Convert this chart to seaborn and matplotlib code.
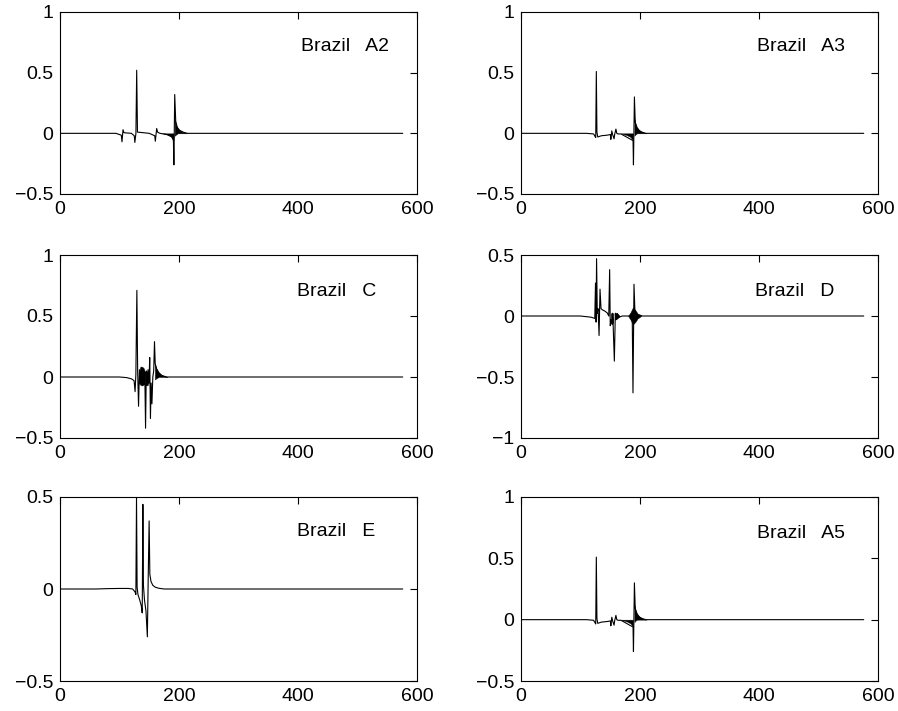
import matplotlib
matplotlib.use("Agg")
import matplotlib.pyplot as plt
import seaborn as sns

# ---------------- data ----------------
titles = ["Brazil   A2", "Brazil   A3", "Brazil   C", "Brazil   D", "Brazil   E", "Brazil   A5"]

a2_x = [0, 94, 103, 104.2, 105.9, 107.5, 120, 124.8, 125.8, 127.6, 128.9, 130.2, 150, 159.2, 160.2,
        162.5, 164, 168, 180, 188, 190.6, 191.4, 192.8, 194.5, 197, 201, 207, 214, 576]
a2_y = [0, 0, -0.015, -0.07, 0.03, 0.005, 0, -0.02, -0.075, 0.0, 0.52, 0.01, 0, -0.02, -0.065,
        0.04, 0.01, 0, -0.01, -0.03, -0.06, -0.26, 0.32, 0.1, 0.05, 0.025, 0.01, 0, 0]
a2_fx = [[172, 180, 185, 188.5, 190.8], [192.8, 195, 198, 202, 208, 214]]
a2_lo = [[0, -0.01, -0.02, -0.035, -0.06], [-0.02, -0.01, 0, 0, 0, 0]]
a2_hi = [[0, 0, 0, 0, 0], [0.12, 0.07, 0.04, 0.02, 0.008, 0]]

a3_x = [0, 110, 122, 125.6, 126.6, 127.6, 129, 135, 145, 150.2, 151, 152.6, 154, 156.4, 157.4,
        159.5, 161, 163, 168, 188.3, 189, 190.6, 192, 194, 198, 203, 210, 576]
a3_y = [0, 0, -0.005, -0.035, 0.51, 0.01, -0.03, -0.02, -0.015, -0.01, -0.05, 0.02, -0.01, -0.045, -0.01,
        0.035, 0.0, -0.005, -0.005, -0.06, -0.26, 0.3, 0.09, 0.05, 0.025, 0.01, 0, 0]
a3_fx = [[168, 178, 184, 188.3], [190.6, 192, 195, 199, 204, 211]]
a3_lo = [[0, -0.015, -0.03, -0.06], [-0.02, -0.01, 0, 0, 0, 0]]
a3_hi = [[0, 0, 0, 0], [0.12, 0.09, 0.05, 0.025, 0.01, 0]]

c_x = [0, 100, 112, 120, 124.5, 126.2, 127.5, 129.2, 130.5, 132, 133.5, 135, 136.5, 138, 139.5, 141,
       142.5, 143.8, 145, 146.5, 148, 149.5, 150.8, 152, 153.2, 154.5, 156, 157.5, 158.8, 160, 162,
       166, 172, 180, 576]
c_y = [0, 0, -0.005, -0.015, -0.03, -0.12, 0.02, 0.71, 0.05, -0.24, 0.06, -0.06, 0.08, -0.05, 0.07, -0.06,
       0.04, -0.42, 0.05, -0.07, 0.06, -0.05, 0.16, -0.34, -0.05, -0.22, 0.0, 0.05, 0.29, 0.11, 0.07,
       0.03, 0.01, 0, 0]
c_fx = [[133, 135, 138, 141, 143], [145, 147, 149], [159.5, 162, 166, 170, 175, 181]]
c_lo = [[-0.02, -0.065, -0.07, -0.06, -0.03], [-0.05, -0.07, -0.04], [-0.02, -0.01, 0, 0, 0, 0]]
c_hi = [[0.03, 0.08, 0.085, 0.07, 0.03], [0.04, 0.05, 0.04], [0.11, 0.07, 0.04, 0.02, 0.008, 0]]

d_x = [0, 100, 118, 124, 125.2, 126.2, 127, 128.2, 129.5, 131.2, 132.8, 134.5, 137, 141, 145, 147.5,
       149, 150, 151.5, 153, 154.5, 156.9, 158.5, 160, 162, 165, 170, 178, 184, 187, 188.2, 189.9,
       191.5, 194, 198, 204, 212, 220, 576]
d_y = [0, 0, -0.01, -0.02, 0.27, -0.05, 0.47, 0.02, 0.06, -0.16, 0.22, 0.06, 0.05, 0.04, 0.025, 0.0,
       0.38, -0.08, -0.03, -0.06, -0.02, -0.37, 0.02, -0.03, 0.02, -0.01, 0, 0, 0, -0.03, -0.63, 0.26,
       0.03, -0.02, 0.01, 0, 0, 0, 0]
d_fx = [[151, 153, 155], [158, 162, 166], [180, 184, 188, 192, 196, 202]]
d_lo = [[-0.06, -0.07, -0.05], [-0.03, -0.02, 0], [0, -0.03, -0.07, -0.05, -0.02, 0]]
d_hi = [[0.02, 0.03, 0.02], [0.03, 0.02, 0], [0, 0.03, 0.07, 0.05, 0.02, 0]]

e_x = [0, 60, 80, 100, 115, 122, 126, 127.5, 128.6, 129.6, 131, 134, 136.5, 138.2, 139.3, 140.2, 142,
       144.5, 146.8, 148.2, 149.8, 151, 153, 156, 160, 166, 175, 576]
e_y = [0, 0, 0.002, 0.003, 0.003, 0, -0.015, -0.03, 0.5, 0.01, -0.03, -0.06, -0.09, -0.13, 0.46, 0.02,
       -0.06, -0.12, -0.26, 0.05, 0.37, 0.08, 0.04, 0.02, 0.01, 0.004, 0, 0]
e_fx = []
e_lo = []
e_hi = []

a5_x = list(a3_x)
a5_y = list(a3_y)
a5_fx = a3_fx
a5_lo = a3_lo
a5_hi = a3_hi

y_ticks = [[-0.5, 0, 0.5, 1], [-0.5, 0, 0.5, 1], [-0.5, 0, 0.5, 1],
           [-1, -0.5, 0, 0.5], [-0.5, 0, 0.5], [-0.5, 0, 0.5, 1]]
y_labels = [["\u22120.5", "0", "0.5", "1"], ["\u22120.5", "0", "0.5", "1"], ["\u22120.5", "0", "0.5", "1"],
            ["\u22121", "\u22120.5", "0", "0.5"], ["\u22120.5", "0", "0.5"], ["\u22120.5", "0", "0.5", "1"]]
x_ticks = [0, 200, 400, 600]
x_labels = ["0", "200", "400", "600"]

# ---------------- styling ----------------
sns.set_theme(style="white")
plt.rcParams["font.family"] = ["Liberation Sans", "DejaVu Sans"]
plt.rcParams["axes.linewidth"] = 0.8
plt.rcParams["axes.edgecolor"] = "black"

fig = plt.figure(figsize=(8.98, 7.11), dpi=100)
W, H = 898.0, 711.0
cols = [(60, 417), (521, 878)]
rows = [(12, 194), (255, 438), (497, 681)]
label_pos = [(0.675, 0.81), (0.66, 0.81), (0.665, 0.80), (0.655, 0.80), (0.665, 0.81), (0.66, 0.80)]

panels = [(a2_x, a2_y, a2_fx, a2_lo, a2_hi), (a3_x, a3_y, a3_fx, a3_lo, a3_hi),
          (c_x, c_y, c_fx, c_lo, c_hi), (d_x, d_y, d_fx, d_lo, d_hi),
          (e_x, e_y, e_fx, e_lo, e_hi), (a5_x, a5_y, a5_fx, a5_lo, a5_hi)]

for i, (px, py, fx, flo, fhi) in enumerate(panels):
    r, c = divmod(i, 2)
    x0, x1 = cols[c]
    y0, y1 = rows[r]
    ax = fig.add_axes([x0 / W, 1 - y1 / H, (x1 - x0) / W, (y1 - y0) / H])
    sns.lineplot(x=px, y=py, ax=ax, estimator=None, sort=False, color="black", linewidth=0.8)
    for xx, lo, hi in zip(fx, flo, fhi):
        ax.fill_between(xx, lo, hi, color="black", linewidth=0.3)
    ax.set_xlim(0, 600)
    ax.set_ylim(y_ticks[i][0], y_ticks[i][-1])
    ax.set_xticks(x_ticks, x_labels)
    ax.set_yticks(y_ticks[i], y_labels[i])
    ax.tick_params(direction="in", length=5, width=0.8, top=True, right=True,
                   labelsize=14, pad=5, colors="black")
    for s in ax.spines.values():
        s.set_visible(True)
        s.set_color("black")
    ax.text(label_pos[i][0], label_pos[i][1], titles[i], transform=ax.transAxes,
            fontsize=14, ha="left", va="center", color="black")

fig.savefig("out.png", dpi=100)
